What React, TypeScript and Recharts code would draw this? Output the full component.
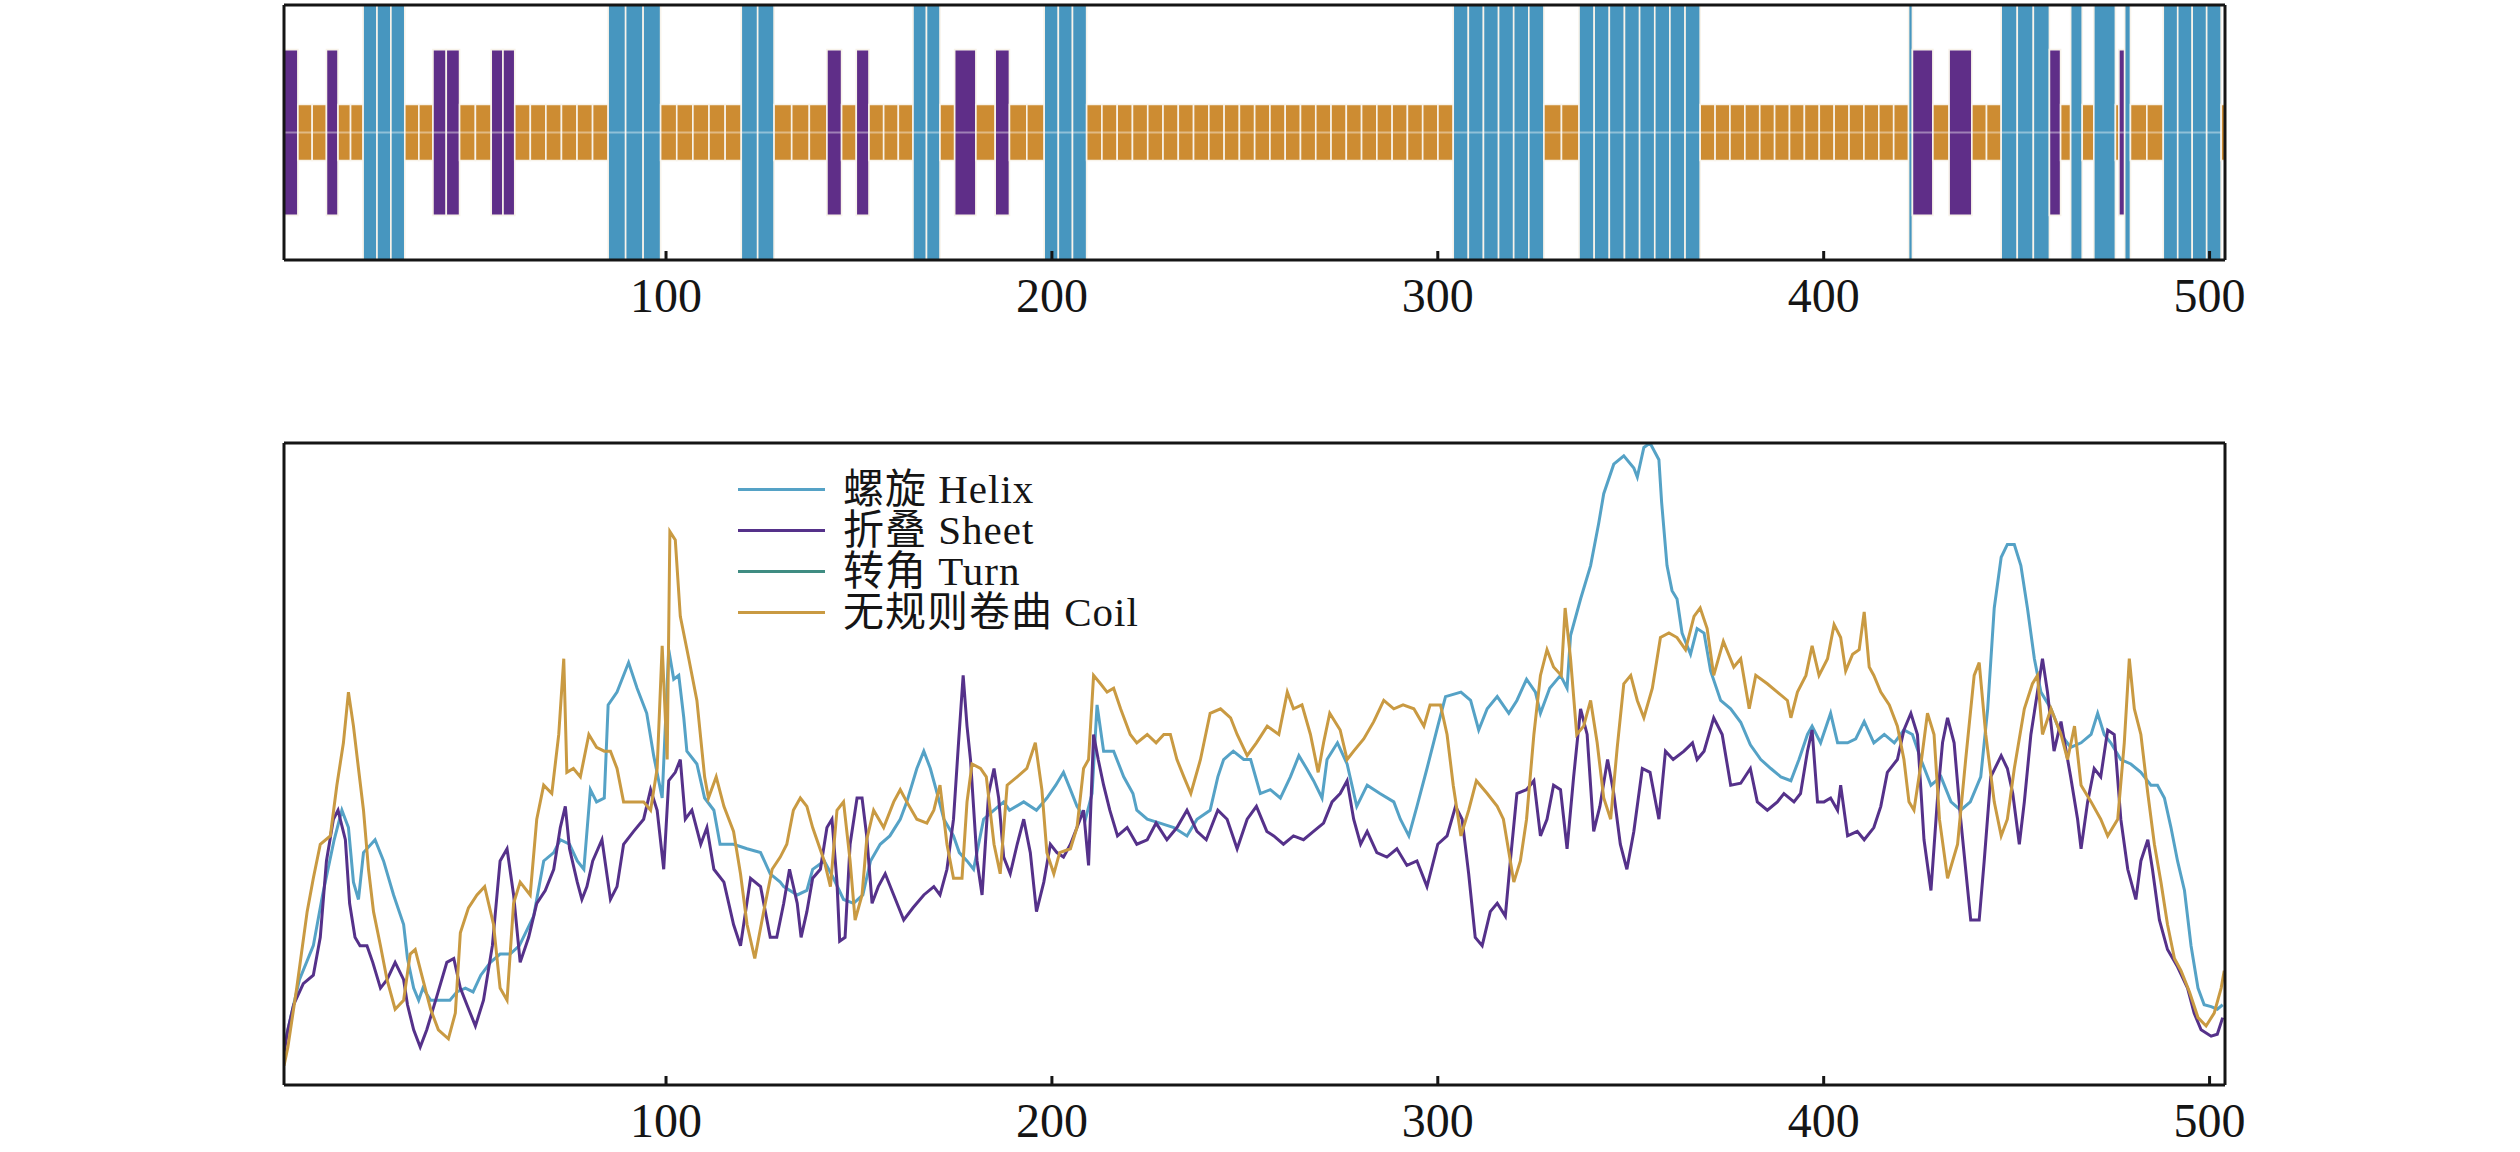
import React from "react";
import { ComposedChart, Line, XAxis, YAxis, ReferenceArea } from "recharts";

// residue axis
const residueDomain: [number, number] = [1, 504];
const residueTicks = [100, 200, 300, 400, 500];

// secondary structure track: [start, end, type]  H = helix, E = sheet, C = coil
type Ss = "H" | "E" | "C";
const structureSegments: [number, number, Ss][] = [
  [1, 4.6, "E"],
  [4.6, 12, "C"],
  [12, 15, "E"],
  [15, 21.5, "C"],
  [21.5, 32.3, "H"],
  [32.3, 39.6, "C"],
  [39.6, 46.5, "E"],
  [46.5, 54.7, "C"],
  [54.7, 60.8, "E"],
  [60.8, 85, "C"],
  [85, 98.6, "H"],
  [98.6, 119.5, "C"],
  [119.5, 128, "H"],
  [128, 141.7, "C"],
  [141.7, 145.5, "E"],
  [145.5, 149.3, "C"],
  [149.3, 152.6, "E"],
  [152.6, 164, "C"],
  [164, 171, "H"],
  [171, 174.8, "C"],
  [174.8, 180.3, "E"],
  [180.3, 185.3, "C"],
  [185.3, 189, "E"],
  [189, 198, "C"],
  [198, 209, "H"],
  [209, 304, "C"],
  [304, 327.5, "H"],
  [327.5, 336.6, "C"],
  [336.6, 368, "H"],
  [368, 422, "C"],
  [422, 423, "H"],
  [423, 428.3, "E"],
  [428.3, 432.5, "C"],
  [432.5, 438.4, "E"],
  [438.4, 446, "C"],
  [446, 458.5, "H"],
  [458.5, 461.4, "E"],
  [461.4, 464, "C"],
  [464, 467, "H"],
  [467, 470, "C"],
  [470, 475.6, "H"],
  [475.6, 476.5, "C"],
  [476.5, 478, "E"],
  [478, 479.5, "H"],
  [479.5, 488, "C"],
  [488, 503, "H"],
  [503, 504, "C"],
];

// propensity curves: [residue, value]
const helixCurve: [number, number][] = [
  [1, 6], [2, 8.6], [5, 16.4], [8.6, 21.7], [11, 29.6], [14, 38.2], [16, 42.8], [17.7, 40.1],
  [19, 31.6], [20.3, 28.9], [21.6, 36.2], [24.6, 38.2], [26.8, 34.9], [29.4, 29.6], [32, 25],
  [33, 19.7], [34.6, 15.1], [35.9, 13.2], [37, 15.1], [39, 13.2], [40.6, 13.2], [44, 13.2],
  [45.8, 14.5], [48, 15.1], [50, 14.5], [52, 17.1], [54.5, 19.1], [57, 20.4], [59.6, 20.4],
  [62, 21.7], [65.7, 26.3], [68.3, 34.9], [70.9, 36.2], [72.6, 38.2], [75, 37.5], [77, 34.9],
  [78.7, 33.6], [80.4, 46], [82, 44.1], [84, 44.7], [85, 59.2], [87.3, 61.2], [90.3, 65.8],
  [92.5, 61.8], [95, 57.9], [96.8, 51.3], [99, 44.7], [100.7, 67.8], [102, 63.2], [103.3, 63.8],
  [104.6, 57.2], [105.4, 52], [108, 50], [110, 44.7], [112.4, 42.8], [114, 37.5], [117.5, 37.5],
  [121, 36.8], [124.5, 36.2], [127, 32.9], [129.6, 31.6], [130.5, 30.9], [134, 29.6],
  [136.5, 30.3], [138, 33.6], [141, 34.9], [143.4, 32.2], [146, 28.9], [148.6, 28.3], [151, 29.6],
  [153, 34.9], [155.5, 37.5], [158, 38.8], [160.7, 41.4], [162.4, 44.1], [165, 49.3], [166.8, 52],
  [168.5, 49.3], [170, 46], [172, 41.4], [174.5, 38.8], [176, 36.2], [178, 34.9], [179.7, 33.6],
  [182.3, 41.4], [185, 42.8], [187.5, 44.1], [189, 42.8], [192.7, 44.1], [196, 42.8],
  [198.7, 44.7], [201, 46.7], [203, 48.7], [204.8, 46], [206.5, 43.4], [208.7, 41.4],
  [210.4, 45.4], [211.7, 59.2], [213.4, 52], [216, 52], [218.6, 48], [221, 45.4], [222, 42.8],
  [224.7, 41.4], [228, 40.8], [231.6, 40.1], [235, 38.8], [237.6, 41.4], [241, 42.8], [243, 48],
  [244.5, 50.7], [247, 52], [249.7, 50.7], [251.5, 50.7], [254, 45.4], [256.6, 46], [259.2, 44.7],
  [261.8, 48], [264, 51.3], [266, 49.3], [267.8, 47.4], [270, 44.7], [271.3, 50.7], [274, 53.3],
  [276.5, 50], [279, 43.4], [281.7, 46.7], [285, 45.4], [288.6, 44.1], [290.3, 41.4],
  [292.5, 38.8], [294.6, 43.4], [297.2, 49.3], [300, 55.9], [302, 60.5], [306, 61.2],
  [308.5, 59.9], [310.6, 55.3], [312.8, 58.6], [315.4, 60.5], [318.4, 57.9], [320.5, 59.9],
  [323, 63.2], [325.3, 61.2], [326.6, 57.9], [329, 61.8], [331.8, 63.8], [333.5, 61.8],
  [334.4, 70], [337, 75.7], [339.6, 80.9], [341.7, 87.5], [343, 92.1], [345.6, 96.7], [348.2, 98],
  [350.8, 96.1], [351.7, 94.7], [353.4, 99.3], [355, 100], [357.3, 97.4], [358, 90.8],
  [359.4, 80.9], [360.7, 77], [362, 75.7], [363.3, 70.4], [365.5, 67.1], [367.2, 71.1],
  [369, 70.4], [370.7, 64.5], [373.3, 59.9], [375.9, 58.6], [378.5, 56.5], [381, 53],
  [383.7, 50.7], [386.3, 49.3], [388.9, 48], [391.5, 47.4], [393.6, 50.7], [395.8, 54.6],
  [397, 55.9], [399.2, 53.3], [401.8, 57.9], [403.6, 53.3], [406.2, 53.3], [408.3, 53.9],
  [410.5, 56.6], [413, 53.3], [415.7, 54.6], [418.3, 53.3], [420.8, 55.3], [423, 54.6],
  [425.2, 50.7], [427.8, 46.7], [430.4, 48], [433, 44.1], [435.5, 42.8], [438, 44.1],
  [440.7, 48], [442.5, 58.6], [444.2, 74.3], [446, 82.2], [447.6, 84.2], [449.4, 84.2],
  [451.1, 80.9], [452.8, 74.3], [454.6, 66.4], [456.3, 61.2], [458.9, 58.6], [461.5, 54.6],
  [464, 52.6], [466.7, 53.3], [469.3, 54.6], [471, 57.9], [472.7, 54.6], [474.4, 53.3],
  [477, 50.7], [479.6, 50], [482.2, 48.7], [484.8, 46.7], [486.5, 46.7], [488.3, 44.7],
  [490, 40.1], [491.7, 34.9], [493.5, 30.3], [495.2, 21.7], [497, 15.1], [498.6, 12.5],
  [500.4, 12.2], [502, 11.8], [503.4, 12.5],
];

const sheetCurve: [number, number][] = [
  [1, 5], [2, 8.6], [3.5, 12.5], [6, 15.8], [8.6, 17.1], [10.4, 23], [12, 34.9], [13.8, 41.4],
  [15, 42.8], [16.9, 38.2], [18, 28.3], [19.4, 23], [20.7, 21.7], [22.5, 21.7], [24, 19.1],
  [26, 15.1], [27.7, 16.4], [29.8, 19.1], [32, 16.4], [33, 12.5], [34.6, 8.6], [36.3, 5.9],
  [38, 8.6], [40.6, 13.8], [43.2, 19.1], [45, 19.7], [46.7, 15.1], [48.4, 12.5], [50.6, 9.2],
  [52.7, 13.2], [55, 21.7], [57, 34.9], [58.8, 36.8], [60.5, 29.6], [62.2, 19.1], [64.4, 23],
  [66.5, 28.3], [68.7, 30.3], [70.9, 33.6], [72.6, 40.1], [73.9, 43.4], [75, 36.8], [77, 31.6],
  [78.2, 28.9], [79.5, 30.9], [81, 34.9], [83.4, 38.2], [85.6, 28.9], [87.3, 30.9], [89, 37.5],
  [91.6, 39.5], [94.2, 41.4], [96, 46], [97.7, 42.8], [99.4, 33.6], [100.7, 47.4], [102.4, 48.7],
  [103.7, 50.7], [105, 41.4], [106.7, 42.8], [109, 37.5], [110.6, 40.1], [112.4, 33.6],
  [115, 31.6], [117.5, 25], [119.3, 21.7], [121.9, 32.2], [124.5, 30.9], [127, 23], [128.7, 23],
  [130.5, 28.3], [132, 33.6], [134, 28.3], [135, 23], [136.5, 27], [138, 32.2], [140, 33.6],
  [141.7, 40.1], [143, 41.4], [144.3, 31.6], [145, 22.4], [146.4, 23], [147.7, 37.5],
  [149.5, 44.7], [150.8, 44.7], [152, 38.8], [153.4, 28.3], [155, 30.9], [156.8, 32.9],
  [159, 29.6], [161.6, 25.7], [164, 27.6], [166.8, 29.6], [169.4, 30.9], [171, 29.6],
  [172.8, 33.6], [174.5, 41.4], [175.8, 53.3], [177, 63.8], [178, 55.9], [178.9, 50.7],
  [180.6, 34.9], [181.9, 29.6], [183.6, 45.4], [185, 49.3], [186.2, 44.7], [187.5, 35.5],
  [189.2, 32.9], [191, 37.5], [192.7, 41.4], [194.4, 36.2], [196, 27], [197.9, 31.6],
  [199.6, 37.5], [201.3, 36.2], [203, 35.5], [204.8, 37.5], [206.5, 40.1], [208.2, 42.8],
  [209.5, 34.2], [210.8, 54.6], [212, 50.7], [213.4, 46.7], [215, 42.8], [217, 38.8],
  [219.5, 40.1], [222, 37.5], [224.7, 38.2], [227, 40.8], [229.8, 38.2], [232.4, 40.1],
  [235, 42.8], [237.6, 39.5], [240, 38.2], [243, 42.8], [245.4, 41.4], [248, 36.8],
  [250.6, 41.4], [253, 43.4], [255.7, 39.5], [257.5, 38.8], [260, 37.5], [262.6, 38.8],
  [265.2, 38.2], [267.8, 39.5], [270.4, 40.8], [272.6, 44.1], [274.7, 45.4], [276.5, 47.4],
  [278.2, 41.4], [280, 37.5], [281.7, 39.5], [284.2, 36.2], [286.8, 35.5], [289.4, 36.8],
  [292, 34.2], [294.6, 34.9], [297.2, 30.9], [300, 37.5], [302.4, 38.8], [304.6, 43.4],
  [306.3, 41.4], [308, 32.9], [309.7, 23], [311.5, 21.7], [313.6, 27], [315.4, 28.3],
  [317.5, 26.3], [318.8, 34.9], [320.5, 45.4], [323, 46], [324.9, 47.4], [326.6, 38.8],
  [328.3, 41.4], [330, 46.7], [331.8, 46], [333.5, 36.8], [335.2, 48], [337, 58.6],
  [338.7, 54.6], [340.4, 39.5], [342, 43.4], [344, 50.7], [345.6, 45.4], [347.3, 37.5],
  [349, 33.6], [350.8, 39.5], [353, 49.3], [355, 48.7], [357.3, 41.4], [359, 52], [361, 50.7],
  [363.8, 52], [366, 53.3], [367.2, 50.7], [369, 52], [371.5, 57.2], [373.7, 54.6],
  [375.9, 46.7], [378.5, 47], [381, 49.3], [382.8, 44.1], [385.4, 42.8], [388, 44.1],
  [389.7, 45.4], [392.3, 44.1], [394, 45.4], [395.8, 52], [397, 55.3], [398.4, 44.1],
  [400.1, 44.1], [401.8, 44.7], [403.6, 42.8], [404.4, 46.7], [406.2, 38.8], [408.7, 39.5],
  [410.5, 38.2], [413, 40.1], [414.8, 43.4], [416.5, 48.7], [419.1, 50.7], [420.8, 55.3],
  [422.6, 57.9], [424.3, 54.6], [426, 38.2], [427.8, 30.3], [429.5, 44.7], [430.8, 53.3],
  [432.1, 57.2], [433.8, 53.3], [435.5, 41.4], [438.1, 25.7], [440.3, 25.7], [441.6, 34.9],
  [443.3, 48], [446, 51.3], [447.6, 49.3], [449, 45.4], [450.7, 37.5], [452, 44.1],
  [453.7, 54.6], [455.4, 61.2], [456.7, 66.4], [458, 61.2], [459.7, 52], [461.5, 56.6],
  [464, 48], [465.8, 41.4], [466.7, 36.8], [468.4, 44.1], [470.1, 49.3], [471.8, 48],
  [473.6, 55.3], [475.3, 54.6], [477, 41.4], [478.8, 33.6], [480.9, 28.9], [482.2, 34.9],
  [484, 38.2], [485.2, 33.6], [487, 25.7], [489.1, 21.1], [491.7, 18.4], [494.3, 15.1],
  [496, 11.2], [497.8, 8.6], [500.4, 7.6], [502, 7.9], [503.4, 10.5],
];

const coilCurve: [number, number][] = [
  [1, 3], [2, 5.9], [4.3, 15.1], [7, 27], [8.6, 32.2], [10.4, 37.5], [13, 38.8], [14.7, 46.7],
  [16.4, 53.3], [17.7, 61.2], [19, 55.9], [20.3, 49.3], [21.6, 42.8], [22.9, 33.6], [24.2, 27],
  [26, 21.7], [27.7, 16.4], [29.8, 11.8], [32, 13.2], [33.7, 20.4], [35, 21.1], [36.7, 17.1],
  [39, 11.8], [41, 8.6], [43.6, 7.2], [45.4, 11.2], [46.7, 23.7], [48.8, 27.6], [51, 29.6],
  [53, 30.9], [55.3, 25], [57, 15.1], [58.8, 13.2], [60.5, 28.3], [62.2, 31.6], [64.8, 29.6],
  [66.5, 41.4], [68.3, 46.7], [70.4, 45.4], [72.2, 54.6], [73.5, 66.4], [74.3, 48.7], [76, 49.3],
  [77.8, 48], [80, 54.6], [82, 52.6], [84, 52], [85.6, 52], [87.3, 49.3], [89, 44.1],
  [91.6, 44.1], [94.2, 44.1], [96, 42.8], [97.7, 49.3], [99, 68.4], [100.3, 50.7], [101, 86.2],
  [102.4, 84.9], [103.7, 73], [105.9, 66.4], [108, 59.9], [110, 48], [111, 44.7], [113, 48],
  [115, 43.4], [117.5, 39.5], [119.3, 32.9], [121, 25], [123, 19.7], [125.3, 27], [127.5, 33.6],
  [129.6, 35.5], [131.3, 37.5], [133, 42.8], [134.8, 44.7], [136.5, 43.4], [138, 40.1],
  [141, 34.9], [142.6, 30.9], [144.3, 42.8], [146, 44.1], [147.7, 34.9], [149, 25.7],
  [150.8, 29.6], [152, 38.2], [153.8, 42.8], [156.4, 40.1], [159, 44.1], [160.7, 46],
  [162.4, 44.1], [165, 41.4], [167.6, 40.8], [169.4, 42.8], [171, 46.7], [172.8, 37.5],
  [174.5, 32.2], [176.7, 32.2], [178, 44.1], [179.3, 50], [181.5, 49.3], [183, 48], [185, 37.5],
  [186.6, 32.9], [188.4, 46.7], [191, 48], [193.5, 49.3], [195.7, 53.3], [197.4, 46],
  [198.7, 36.2], [200.5, 32.9], [202, 36.2], [204.8, 36.8], [206.5, 40.1], [208.2, 49.3],
  [209.5, 50.7], [210.8, 63.8], [212.6, 62.5], [214.3, 61.2], [216, 61.8], [217.8, 58.6],
  [220.3, 54.6], [222, 53.3], [224.7, 54.6], [227, 53.3], [229, 54.6], [230.7, 54.6],
  [232.4, 50.7], [234.2, 48], [236, 45.4], [238.5, 50.7], [241, 57.9], [243.7, 58.6],
  [246.3, 57.2], [248, 54.6], [250.6, 51.3], [253, 53.3], [255.8, 55.9], [258.8, 54.6],
  [261, 61.2], [262.6, 58.6], [264.8, 59.2], [267, 54.6], [269, 48.7], [270.4, 53.3],
  [272, 57.9], [274.7, 55.3], [276.5, 50.7], [278.2, 52], [280.8, 53.9], [283.4, 56.6],
  [286, 59.9], [288.6, 58.6], [291, 59.2], [293.8, 58.6], [296.4, 55.9], [298, 59.2],
  [300.7, 59.2], [302.4, 54.6], [304, 46.7], [306, 38.8], [308, 42.8], [310, 47.4],
  [312.8, 45.4], [315.4, 43.4], [317, 41.4], [318.8, 34.9], [319.7, 31.6], [321.4, 34.9],
  [323, 41.4], [324.9, 54.6], [326.6, 63.8], [328.3, 67.8], [330, 65.1], [332, 63.8],
  [333, 74.3], [334.4, 66.4], [336, 54.6], [337.8, 55.9], [339.6, 59.9], [341.3, 53.3],
  [343, 44.7], [344.8, 41.4], [346.5, 52.6], [348.2, 62.5], [350, 63.8], [351.7, 59.9],
  [353.4, 57.2], [355.6, 61.8], [357.7, 69.7], [359.9, 70.4], [362, 69.7], [364.2, 67.8],
  [366.4, 73], [368, 74.3], [369.8, 71.1], [371.5, 63.8], [374, 69.1], [376.7, 65.1],
  [378.5, 66.4], [380.7, 58.6], [382.4, 63.8], [385.4, 62.5], [388, 61.2], [390.6, 59.9],
  [391.5, 57.2], [393.2, 61.2], [395.4, 63.8], [397, 68.4], [398.8, 63.8], [401, 66.4],
  [402.7, 71.7], [404.4, 69.7], [405.7, 64.5], [407.5, 67.1], [409.2, 67.8], [410.5, 73.7],
  [411.8, 65.1], [413, 63.8], [414.8, 61.2], [417, 59.2], [419.1, 55.9], [420.8, 50.7],
  [422.1, 44.1], [423.4, 42.8], [425.2, 50], [426.9, 57.9], [428.6, 54.6], [430, 41.4],
  [432.1, 32.2], [434.7, 37.5], [436.8, 50.7], [439, 63.8], [440.3, 65.8], [442, 54.6],
  [444.2, 44.1], [446, 38.8], [447.6, 41.4], [449.4, 49.3], [452, 58.6], [454.1, 62.5],
  [455.4, 63.8], [456.7, 54.6], [458.9, 58.6], [461.5, 54.6], [463.2, 50.7], [465, 55.9],
  [466.7, 46.7], [469.3, 44.1], [471.8, 41.4], [473.6, 38.8], [476.2, 41.4], [477.9, 53.3],
  [479.2, 66.4], [480.5, 58.6], [482.2, 54.6], [484, 45.4], [485.7, 37.5], [487.4, 31.6],
  [489.1, 25], [490.9, 19.7], [492.6, 17.8], [494.8, 14.5], [497, 10.5], [499.1, 9.2],
  [501.2, 11.2], [503, 15.1], [503.8, 17.8],
];

const legendNames = ["螺旋 Helix", "折叠 Sheet", "转角 Turn", "无规则卷曲 Coil"];

// styling
const FONT = "'Liberation Serif', 'Times New Roman', 'Noto Sans CJK SC', serif";
const INK = "#151515";
const TRACK_COLORS: Record<Ss, string> = { H: "#4796bf", E: "#5f2e88", C: "#cd8c32" };
const TRACK_HALF: Record<Ss, number> = { H: 1, E: 0.65, C: 0.22 };
const LINE_COLORS = ["#55a2c6", "#55318a", "#3f8c82", "#c99a42"];

const toPoints = (curve: [number, number][]) => curve.map(([r, v]) => ({ r, v }));

// split segments into short cells so the track shows the residue blocks
const trackCells = structureSegments.flatMap(([start, end, ss]) => {
  const n = Math.max(1, Math.round((end - start) / 4));
  const w = (end - start) / n;
  return Array.from({ length: n }, (_, i) => ({
    x1: start + i * w,
    x2: start + (i + 1) * w,
    ss,
    r: start + i * w,
    mid: 0,
  }));
});

const frameLine = { stroke: INK, strokeWidth: 3 };
const tickStyle = { fontSize: 48, fill: INK, fontFamily: FONT };

export default function App() {
  // box frame: bottom axis with labels, top axis with inner ticks, left/right lines
  const axes = (yDomain: [number, number], bottomHeight: number) => [
    <XAxis
      key="xb"
      xAxisId="b"
      type="number"
      dataKey="r"
      domain={residueDomain}
      allowDataOverflow
      ticks={residueTicks}
      tickSize={-9}
      tickMargin={27}
      height={bottomHeight}
      axisLine={frameLine}
      tickLine={frameLine}
      tick={tickStyle}
    />,
    <XAxis
      key="xt"
      xAxisId="t"
      orientation="top"
      type="number"
      dataKey="r"
      domain={residueDomain}
      allowDataOverflow
      ticks={residueTicks}
      tickSize={-9}
      height={1}
      axisLine={frameLine}
      tickLine={frameLine}
      tick={false}
    />,
    <YAxis
      key="yl"
      yAxisId="l"
      type="number"
      domain={yDomain}
      allowDataOverflow
      width={1}
      tick={false}
      tickLine={false}
      axisLine={frameLine}
    />,
    <YAxis
      key="yr"
      yAxisId="r"
      orientation="right"
      type="number"
      domain={yDomain}
      width={1}
      tick={false}
      tickLine={false}
      axisLine={frameLine}
    />,
  ];

  return (
    <div
      style={{
        position: "absolute",
        left: 0,
        top: 0,
        width: 2520,
        height: 1152,
        background: "#ffffff",
        overflow: "hidden",
      }}
    >
      {/* structure track */}
      <div style={{ position: "absolute", left: 0, top: 0 }}>
        <ComposedChart
          width={2520}
          height={340}
          data={trackCells}
          margin={{ top: 4, right: 294, bottom: 0, left: 283 }}
        >
          {axes([-1, 1], 80)}
          {trackCells.map((c, i) => (
            <ReferenceArea
              key={i}
              xAxisId="b"
              yAxisId="l"
              x1={c.x1}
              x2={c.x2}
              y1={-TRACK_HALF[c.ss]}
              y2={TRACK_HALF[c.ss]}
              fill={TRACK_COLORS[c.ss]}
              fillOpacity={1}
              stroke="#f8f3ea"
              strokeWidth={1.6}
              ifOverflow="hidden"
            />
          ))}
          <Line
            xAxisId="b"
            yAxisId="l"
            dataKey="mid"
            stroke="#ffffff"
            strokeOpacity={0.4}
            strokeWidth={2}
            dot={false}
            isAnimationActive={false}
          />
        </ComposedChart>
      </div>

      {/* propensity curves */}
      <div style={{ position: "absolute", left: 0, top: 380 }}>
        <ComposedChart width={2520} height={772} margin={{ top: 62, right: 294, bottom: 0, left: 283 }}>
          {axes([0, 100], 67)}
          <Line
            xAxisId="b"
            yAxisId="l"
            data={toPoints(helixCurve)}
            dataKey="v"
            type="linear"
            stroke={LINE_COLORS[0]}
            strokeWidth={3}
            dot={false}
            isAnimationActive={false}
          />
          <Line
            xAxisId="b"
            yAxisId="l"
            data={toPoints(sheetCurve)}
            dataKey="v"
            type="linear"
            stroke={LINE_COLORS[1]}
            strokeWidth={3}
            dot={false}
            isAnimationActive={false}
          />
          <Line
            xAxisId="b"
            yAxisId="l"
            data={toPoints(coilCurve)}
            dataKey="v"
            type="linear"
            stroke={LINE_COLORS[3]}
            strokeWidth={3}
            dot={false}
            isAnimationActive={false}
          />
        </ComposedChart>

        {/* legend */}
        <div
          style={{
            position: "absolute",
            left: 738,
            top: 89,
            fontFamily: FONT,
            fontSize: 41,
            lineHeight: "41px",
            letterSpacing: 1,
            color: INK,
            whiteSpace: "nowrap",
          }}
        >
          {legendNames.map((name, i) => (
            <div key={name} style={{ display: "flex", alignItems: "center", height: 41 }}>
              <span
                style={{
                  display: "inline-block",
                  width: 87,
                  height: 3,
                  background: LINE_COLORS[i],
                  marginRight: 18,
                }}
              />
              <span>{name}</span>
            </div>
          ))}
        </div>
      </div>
    </div>
  );
}
